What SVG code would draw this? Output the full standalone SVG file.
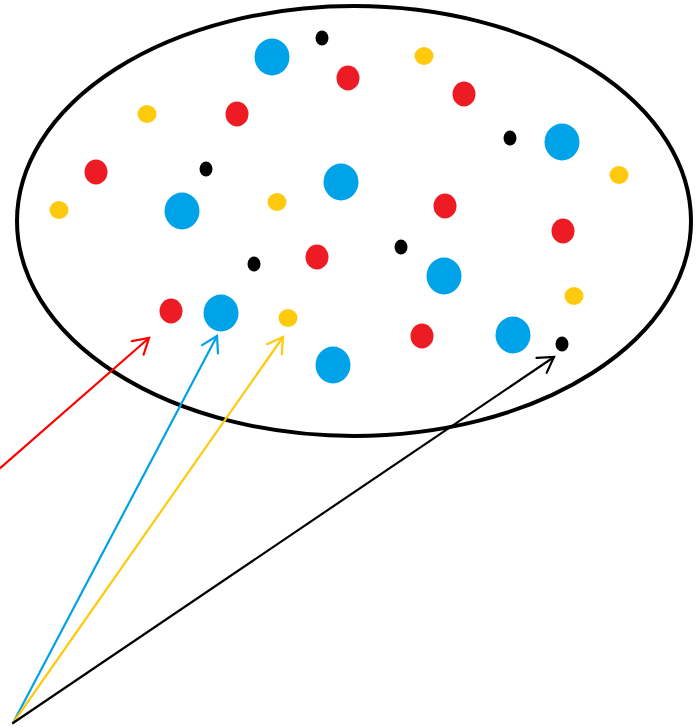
<svg xmlns="http://www.w3.org/2000/svg" width="698" height="728" viewBox="0 0 698 728">
<style>
.b{fill:#00a2e8}.r{fill:#ed1c24}.y{fill:#ffc90e}.k{fill:#000}
.ar{fill:none;stroke-width:2.2;stroke-linecap:round}
</style>
<defs>
<marker id="mr" markerUnits="userSpaceOnUse" markerWidth="40" markerHeight="40" refX="20" refY="20" orient="auto" viewBox="0 0 40 40"><path d="M5,11 L20,20 L5,29" fill="none" stroke="#ff0000" stroke-width="2.2" stroke-linecap="round"/></marker>
<marker id="mb" markerUnits="userSpaceOnUse" markerWidth="40" markerHeight="40" refX="20" refY="20" orient="auto" viewBox="0 0 40 40"><path d="M5,11 L20,20 L5,29" fill="none" stroke="#00a2e8" stroke-width="2.2" stroke-linecap="round"/></marker>
<marker id="my" markerUnits="userSpaceOnUse" markerWidth="40" markerHeight="40" refX="20" refY="20" orient="auto" viewBox="0 0 40 40"><path d="M5,11 L20,20 L5,29" fill="none" stroke="#ffc90e" stroke-width="2.2" stroke-linecap="round"/></marker>
<marker id="mk" markerUnits="userSpaceOnUse" markerWidth="40" markerHeight="40" refX="20" refY="20" orient="auto" viewBox="0 0 40 40"><path d="M5,11 L20,20 L5,29" fill="none" stroke="#000" stroke-width="2.2" stroke-linecap="round"/></marker>
</defs>
<rect width="698" height="728" fill="#fff"/>
<g id="set">
<ellipse cx="354" cy="221" rx="337" ry="215" fill="none" stroke="#000" stroke-width="4"/>
</g>
<g id="blue">
<ellipse class="b" cx="272" cy="57" rx="17.5" ry="18.5"/>
<ellipse class="b" cx="562" cy="142" rx="17.5" ry="18.5"/>
<ellipse class="b" cx="341" cy="182" rx="17.5" ry="18.5"/>
<ellipse class="b" cx="182" cy="211" rx="17.5" ry="18.5"/>
<ellipse class="b" cx="444" cy="276" rx="17.5" ry="18.5"/>
<ellipse class="b" cx="221" cy="313" rx="17.5" ry="18.5"/>
<ellipse class="b" cx="513" cy="335" rx="17.5" ry="18.5"/>
<ellipse class="b" cx="333" cy="365" rx="17.5" ry="18.5"/>
</g>
<g id="red">
<ellipse class="r" cx="348" cy="78" rx="11.5" ry="12.5"/>
<ellipse class="r" cx="464" cy="94" rx="11.5" ry="12.5"/>
<ellipse class="r" cx="237" cy="114" rx="11.5" ry="12.5"/>
<ellipse class="r" cx="96" cy="172" rx="11.5" ry="12.5"/>
<ellipse class="r" cx="445" cy="206" rx="11.5" ry="12.5"/>
<ellipse class="r" cx="563" cy="231" rx="11.5" ry="12.5"/>
<ellipse class="r" cx="317" cy="257" rx="11.5" ry="12.5"/>
<ellipse class="r" cx="171" cy="311" rx="11.5" ry="12.5"/>
<ellipse class="r" cx="422" cy="336" rx="11.5" ry="12.5"/>
</g>
<g id="yellow">
<ellipse class="y" cx="424" cy="56" rx="9.5" ry="9"/>
<ellipse class="y" cx="147" cy="114" rx="9.5" ry="9"/>
<ellipse class="y" cx="619" cy="175" rx="9.5" ry="9"/>
<ellipse class="y" cx="59" cy="210" rx="9.5" ry="9"/>
<ellipse class="y" cx="277" cy="202" rx="9.5" ry="9"/>
<ellipse class="y" cx="574" cy="296" rx="9.5" ry="9"/>
<ellipse class="y" cx="288" cy="318" rx="9.5" ry="9"/>
</g>
<g id="black">
<ellipse class="k" cx="322" cy="38" rx="6.5" ry="7.5"/>
<ellipse class="k" cx="510" cy="138" rx="6.5" ry="7.5"/>
<ellipse class="k" cx="206" cy="169" rx="6.5" ry="7.5"/>
<ellipse class="k" cx="254" cy="264" rx="6.5" ry="7.5"/>
<ellipse class="k" cx="401" cy="247" rx="6.5" ry="7.5"/>
<ellipse class="k" cx="562" cy="344" rx="6.5" ry="7.5"/>
</g>
<g id="connectors">
<line class="ar" x1="-2" y1="470" x2="149" y2="338" stroke="#ff0000" marker-end="url(#mr)"/>
<line class="ar" x1="13" y1="723" x2="217" y2="336" stroke="#00a2e8" marker-end="url(#mb)"/>
<line class="ar" x1="13" y1="723" x2="283" y2="337" stroke="#ffc90e" marker-end="url(#my)"/>
<line class="ar" x1="13" y1="723" x2="554" y2="357" stroke="#000" marker-end="url(#mk)"/>
</g>
</svg>
